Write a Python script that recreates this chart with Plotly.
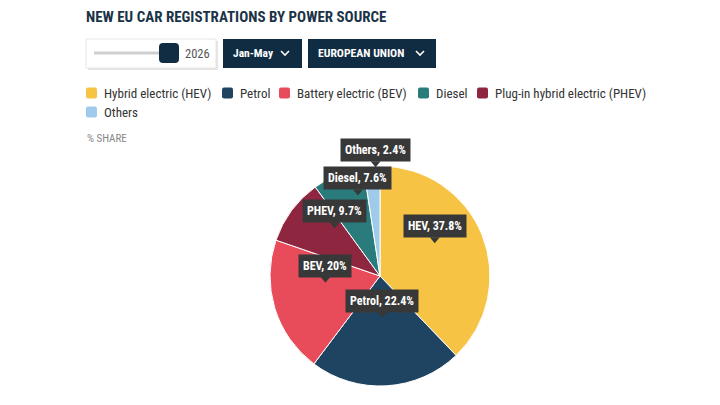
import math
import plotly.graph_objects as go

W, H = 720, 405

categories = ["Hybrid electric (HEV)", "Petrol", "Battery electric (BEV)", "Diesel",
              "Plug-in hybrid electric (PHEV)", "Others"]
short_names = ["HEV", "Petrol", "BEV", "Diesel", "PHEV", "Others"]
shares = [37.8, 22.4, 20, 7.6, 9.7, 2.4]
# slice order (clockwise from 12 o'clock)
pie_order = [0, 1, 2, 4, 3, 5]
colors = ["#F6C344", "#1F4461", "#E84B5A", "#2A7C7C", "#8E2640", "#9FCBEA"]

FONT = "Roboto Condensed"
LABEL_BG = "#383838"
NAVY = "#0F2C42"

# style: radial fraction / angle tweak of label anchor per slice
label_rfrac = {"HEV": 0.58, "Petrol": 0.38, "BEV": 0.50, "PHEV": 0.60, "Diesel": 0.76, "Others": 0.99}
label_rot = {"HEV": -9, "Petrol": 0, "BEV": 10, "PHEV": 10, "Diesel": 7, "Others": 2}

cx, cy, R = 380, 276, 110


def px2paper(x, y):
    return x / W, 1 - y / H


labels_ordered = [categories[i] for i in pie_order]
values_ordered = [shares[i] for i in pie_order]
colors_ordered = [colors[i] for i in pie_order]

fig = go.Figure()
fig.add_trace(go.Pie(
    labels=labels_ordered, values=values_ordered, sort=False,
    direction="clockwise", rotation=0,
    marker=dict(colors=colors_ordered, line=dict(color="white", width=1)),
    textinfo="none", hoverinfo="label+percent",
    domain=dict(x=[(cx - R) / W, (cx + R) / W], y=[1 - (cy + R) / H, 1 - (cy - R) / H]),
    showlegend=False,
))

shapes = []
annotations = []

# data labels (tooltip style)
total = sum(values_ordered)
acc = 0
for lab, val in zip(labels_ordered, values_ordered):
    sn = short_names[categories.index(lab)]
    mid = (acc + val / 2) / total * 360 + label_rot[sn]
    acc += val
    r = R * label_rfrac[sn]
    tx = cx + r * math.sin(math.radians(mid))
    ty = cy - r * math.cos(math.radians(mid))
    ax_, ay_ = px2paper(tx, ty - 5)
    annotations.append(dict(x=ax_, y=ay_, xref="paper", yref="paper", xanchor="center",
                            yanchor="bottom", text=f"<b>{sn}, {val:g}%</b>", showarrow=False,
                            bgcolor=LABEL_BG, borderpad=4,
                            font=dict(family=FONT, size=12, color="white")))
    p1 = px2paper(tx - 5, ty - 6)
    p2 = px2paper(tx + 5, ty - 6)
    p3 = px2paper(tx, ty)
    shapes.append(dict(type="path", xref="paper", yref="paper",
                       path=f"M {p1[0]},{p1[1]} L {p2[0]},{p2[1]} L {p3[0]},{p3[1]} Z",
                       fillcolor=LABEL_BG, line=dict(width=0)))


def rect(x0, y0, x1, y1, fill, line=None, lw=0):
    a = px2paper(x0, y1)
    b = px2paper(x1, y0)
    return dict(type="rect", xref="paper", yref="paper", x0=a[0], y0=a[1], x1=b[0], y1=b[1],
                fillcolor=fill, line=dict(color=line or fill, width=lw), layer="above")


def rrect(x0, y0, x1, y1, rad, fill):
    k0 = px2paper(x0, y0)
    k1 = px2paper(x1, y1)
    rx, ry = rad / W, rad / H
    return dict(type="path", xref="paper", yref="paper",
                path=(f"M {k0[0]+rx},{k0[1]} L {k1[0]-rx},{k0[1]} Q {k1[0]},{k0[1]} {k1[0]},{k0[1]-ry} "
                      f"L {k1[0]},{k1[1]+ry} Q {k1[0]},{k1[1]} {k1[0]-rx},{k1[1]} L {k0[0]+rx},{k1[1]} "
                      f"Q {k0[0]},{k1[1]} {k0[0]},{k1[1]+ry} L {k0[0]},{k0[1]-ry} Q {k0[0]},{k0[1]} {k0[0]+rx},{k0[1]} Z"),
                fillcolor=fill, line=dict(width=0), layer="above")


def text(x, y, s, size, color, bold=False, xanchor="left"):
    p = px2paper(x, y)
    return dict(x=p[0], y=p[1], xref="paper", yref="paper", xanchor=xanchor, yanchor="middle",
                text=f"<b>{s}</b>" if bold else s, showarrow=False,
                font=dict(family=FONT, size=size, color=color))


def chevron(x, y):
    a = px2paper(x - 4, y - 2)
    b = px2paper(x, y + 2)
    c = px2paper(x + 4, y - 2)
    return dict(type="path", xref="paper", yref="paper",
                path=f"M {a[0]},{a[1]} L {b[0]},{b[1]} L {c[0]},{c[1]}",
                line=dict(color="white", width=1.6), layer="above")


# UI controls (decorative)
shapes.append(rect(88, 41, 218, 70, "#E4E4E4"))
shapes.append(rect(86, 39, 216, 68, "white", "#E6E6E6", 1))
shapes.append(rect(94, 51.5, 162, 54.5, "#CFCFCF"))
shapes.append(rrect(159, 43, 179, 63, 4, "#112D43"))
shapes.append(rect(223, 39, 302, 68, NAVY))
shapes.append(rect(308, 39, 436, 68, NAVY))
shapes.append(chevron(285, 53))
shapes.append(chevron(420, 53))

annotations.append(text(84, 17, "NEW EU CAR REGISTRATIONS BY POWER SOURCE", 15, "#1B3347", bold=True))
annotations.append(text(197, 53, "2026", 12.5, "#555555", xanchor="center"))
annotations.append(text(231, 53, "Jan-May", 11.5, "white", bold=True))
annotations.append(text(316, 53, "EUROPEAN UNION", 11.7, "white", bold=True))
annotations.append(text(85, 138, "% SHARE", 11, "#888888"))

# custom legend (positions are layout)
legend_pos = [(86, 93), (222, 93), (279, 93), (418, 93), (477, 93), (86, 112)]
for name, col, (lx, ly) in zip(categories, colors, legend_pos):
    shapes.append(rrect(lx, ly - 5.5, lx + 11, ly + 5.5, 2, col))
    annotations.append(text(lx + 16, ly, name, 13, "#333333"))

fig.update_layout(
    width=W, height=H, margin=dict(l=0, r=0, t=0, b=0),
    paper_bgcolor="white", plot_bgcolor="white",
    font=dict(family=FONT, color="#333333"),
    showlegend=False,
    shapes=shapes, annotations=annotations,
)

fig.write_html("out.html")
